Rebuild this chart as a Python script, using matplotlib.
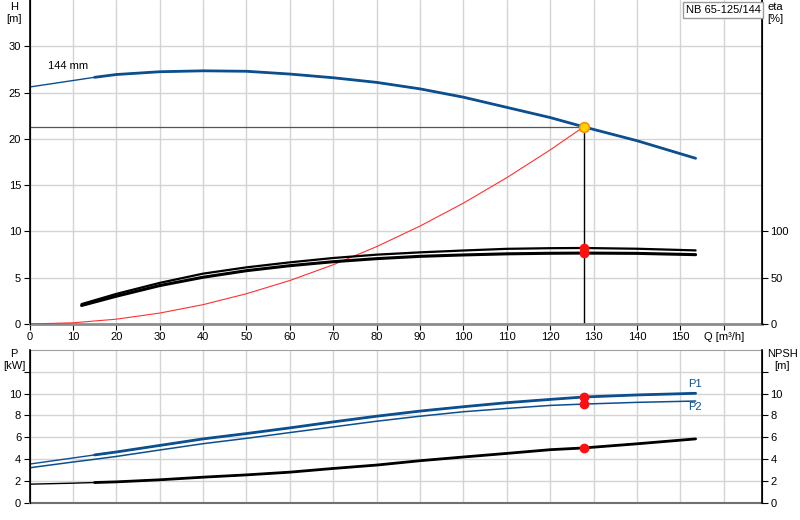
import numpy as np
import matplotlib
matplotlib.use("Agg")
import matplotlib.pyplot as plt

plt.rcParams['font.family'] = ['Liberation Sans', 'DejaVu Sans']
plt.rcParams['font.size'] = 8
plt.rcParams['lines.solid_capstyle'] = 'round'
plt.rcParams['lines.solid_joinstyle'] = 'round'

# flow points shared by the H and power curves [m3/h]
q = [0, 10, 15, 20, 30, 40, 50, 60, 70, 80, 90, 100, 110, 120, 127.7, 140, 153.5]
head = [25.6, 26.3, 26.65, 26.95, 27.25, 27.35, 27.3, 27.0, 26.6, 26.1, 25.4, 24.5, 23.4, 22.3, 21.3, 19.8, 17.9]
p1 = [3.54, 4.1, 4.38, 4.65, 5.25, 5.85, 6.34, 6.86, 7.41, 7.93, 8.4, 8.8, 9.17, 9.47, 9.69, 9.88, 10.03]
p2 = [3.2, 3.73, 3.98, 4.24, 4.83, 5.41, 5.9, 6.43, 6.95, 7.47, 7.93, 8.34, 8.64, 8.92, 9.04, 9.2, 9.32]
npsh = [1.7, 1.79, 1.85, 1.91, 2.1, 2.34, 2.55, 2.8, 3.14, 3.45, 3.85, 4.19, 4.52, 4.86, 5.02, 5.4, 5.85]

# efficiency curves [%]
q_eta = [12, 20, 30, 40, 50, 60, 70, 80, 90, 100, 110, 120, 127.7, 140, 153.5]
eta_upper = [21.5, 32.5, 44.4, 54.4, 61.2, 66.6, 71.3, 74.9, 77.4, 79.4, 81.2, 81.9, 82.1, 81.3, 79.5]
eta_lower = [20.0, 30.0, 41.5, 50.5, 57.6, 63.0, 67.3, 70.6, 73.1, 74.6, 75.8, 76.4, 76.6, 76.3, 74.9]

# system curve up to the duty point
q_sys = [0, 10, 20, 30, 40, 50, 60, 70, 80, 90, 100, 110, 120, 127.7]
h_sys = [0, 0.13, 0.52, 1.18, 2.09, 3.27, 4.7, 6.4, 8.36, 10.58, 13.06, 15.81, 18.81, 21.3]

duty_q = 127.7
duty_h = 21.3
duty_eta = [82.1, 76.6]
duty_p = [9.69, 9.04]
duty_npsh = 5.02

blue = '#0b4f8e'
grid_c = '#d4d4d4'
xmax = 168.8

fig = plt.figure(figsize=(8, 5.2), dpi=100)
ax1 = fig.add_axes([29.5 / 800, 1 - 324 / 520, (762 - 29.5) / 800, 324 / 520])
ax2 = fig.add_axes([29.5 / 800, 17.3 / 520, (762 - 29.5) / 800, (502.7 - 350) / 520])

thick = np.array(q) >= 15

# --- top: head / efficiency ---
ax1.set_xlim(0, xmax)
ax1.set_ylim(0, 35)
ax1.set_xticks(range(0, 170, 10))
ax1.set_xticklabels([str(v) for v in range(0, 160, 10)] + ['Q [m³/h]'])
ax1.set_yticks(range(0, 35, 5))
ax1.grid(True, color=grid_c, lw=1)
ax1.set_axisbelow(True)

ax1.plot(q, head, color=blue, lw=1.0, zorder=3)
ax1.plot(np.array(q)[thick], np.array(head)[thick], color=blue, lw=2.0, zorder=3)
ax1.text(4.2, 27.3, '144 mm', fontsize=8, va='bottom')

ax1.plot([0, duty_q], [duty_h, duty_h], color='#555555', lw=0.9, zorder=2)
ax1.plot([duty_q, duty_q], [0, duty_h], color='black', lw=1.0, zorder=2)
ax1.plot(q_sys, h_sys, color='#ff3030', lw=0.8, zorder=3)
ax1.plot(duty_q, duty_h, 'o', ms=7, mfc='#ffd400', mec='#ff8c00', mew=1.2, zorder=6)

ax1.spines['top'].set_visible(False)
ax1.spines['bottom'].set_color('#8c8c8c')
ax1.spines['bottom'].set_linewidth(2)
ax1.spines['left'].set_linewidth(1.2)
ax1.tick_params(direction='out', length=4, pad=2)

eta_ax = ax1.twinx()
eta_ax.set_ylim(0, 350)
eta_ax.set_yticks([0, 50, 100])
eta_ax.plot(q_eta, eta_upper, color='black', lw=1.6, zorder=3)
eta_ax.plot(q_eta, eta_lower, color='black', lw=2.2, zorder=3)
eta_ax.plot([duty_q] * 2, duty_eta, 'o', color='#ff1010', ms=6, zorder=5)
eta_ax.spines['top'].set_visible(False)
eta_ax.spines['bottom'].set_visible(False)
eta_ax.spines['right'].set_linewidth(1.2)
eta_ax.tick_params(direction='out', length=4, pad=2)

fig.text(723 / 800, 1 - 10 / 520, 'NB 65-125/144', ha='center', va='center', fontsize=8,
         bbox=dict(boxstyle='square,pad=0.25', fc='white', ec='#9a9a9a', lw=1))

# --- bottom: power / NPSH ---
ax2.set_xlim(0, xmax)
ax2.set_ylim(0, 14)
ax2.set_xticks(range(0, 170, 10))
ax2.set_xticklabels([])
ax2.set_yticks(range(0, 14, 2))
ax2.set_yticklabels(['0', '2', '4', '6', '8', '10', ''])
ax2.grid(True, color=grid_c, lw=1)
ax2.set_axisbelow(True)
ax2.tick_params(axis='x', length=0)
ax2.tick_params(axis='y', direction='out', length=4, pad=2)

ax2.plot(q, p1, color=blue, lw=1.0, zorder=3)
ax2.plot(np.array(q)[thick], np.array(p1)[thick], color=blue, lw=2.0, zorder=3)
ax2.plot(q, p2, color=blue, lw=1.1, zorder=3)
ax2.plot(q, npsh, color='black', lw=1.0, zorder=3)
ax2.plot(np.array(q)[thick], np.array(npsh)[thick], color='black', lw=2.0, zorder=3)
ax2.plot([duty_q] * 2, duty_p, 'o', color='#ff1010', ms=6, zorder=5)
ax2.plot(duty_q, duty_npsh, 'o', color='#ff1010', ms=6, zorder=5)
ax2.text(153.3, 10.85, 'P1', color=blue, ha='center', va='center', fontsize=8)
ax2.text(153.3, 8.8, 'P2', color=blue, ha='center', va='center', fontsize=8)

ax2.spines['top'].set_color('#a0a0a0')
ax2.spines['bottom'].set_color('#707070')
ax2.spines['bottom'].set_linewidth(1.5)
ax2.spines['left'].set_linewidth(1.2)

npsh_ax = ax2.twinx()
npsh_ax.set_ylim(0, 14)
npsh_ax.set_yticks(range(0, 14, 2))
npsh_ax.set_yticklabels(['0', '2', '4', '6', '8', '10', ''])
npsh_ax.tick_params(direction='out', length=4, pad=2)
npsh_ax.spines['top'].set_visible(False)
npsh_ax.spines['bottom'].set_visible(False)
npsh_ax.spines['right'].set_linewidth(1.2)

# axis titles
fig.text(14 / 800, 1 - 2 / 520, 'H\n[m]', ha='center', va='top', fontsize=8, linespacing=1.2)
fig.text(767 / 800, 1 - 2 / 520, 'eta\n[%]', ha='left', va='top', fontsize=8, linespacing=1.2)
fig.text(14 / 800, 1 - 349 / 520, 'P\n[kW]', ha='center', va='top', fontsize=8, linespacing=1.2)
fig.text(782 / 800, 1 - 349 / 520, 'NPSH\n[m]', ha='center', va='top', fontsize=8, linespacing=1.2)

fig.savefig('out.png', dpi=100)
